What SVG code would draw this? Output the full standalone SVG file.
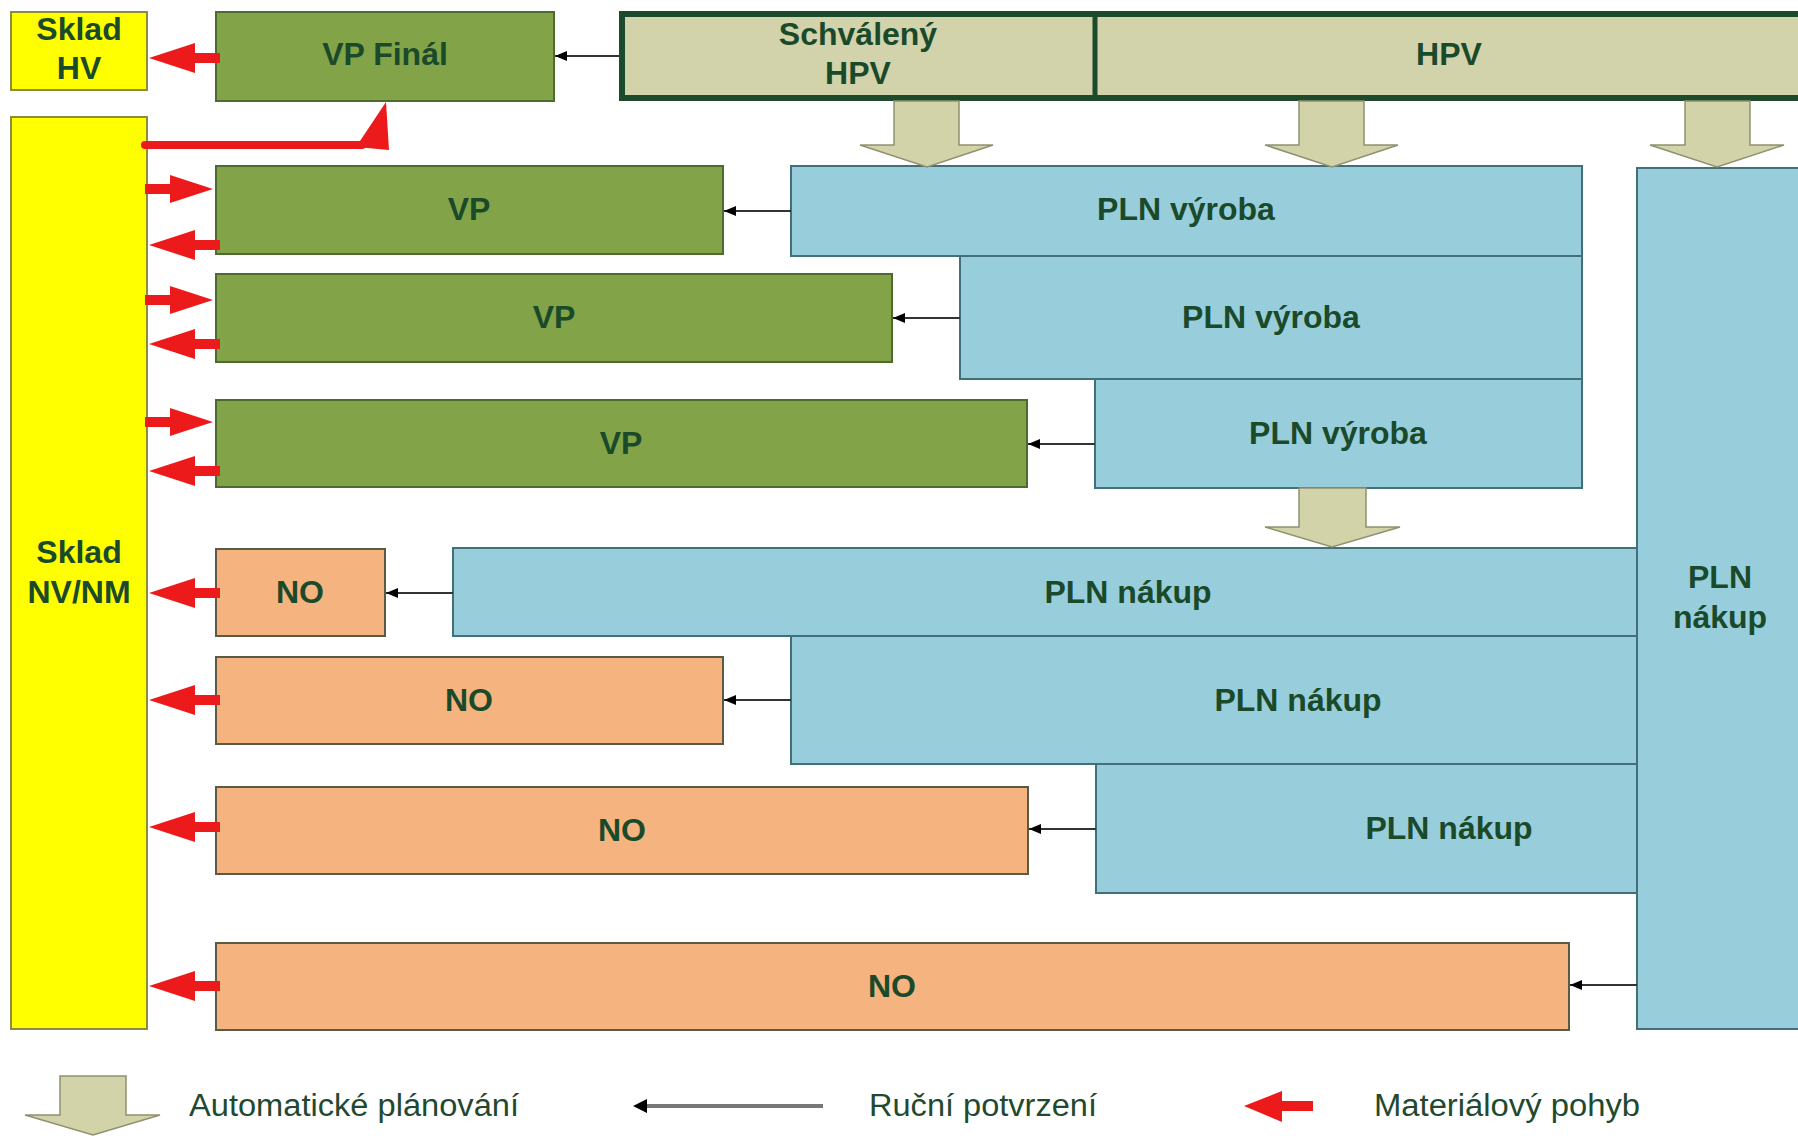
<svg xmlns="http://www.w3.org/2000/svg" width="1798" height="1136" viewBox="0 0 1798 1136">
<defs>
<style>
.lbl{font-family:"Liberation Sans",Arial,sans-serif;font-weight:bold;font-size:32px;fill:#1a4a2a;text-anchor:middle}
.leg{font-family:"Liberation Sans",Arial,sans-serif;font-size:31px;fill:#1f4a2f}
.yel{fill:#ffff00;stroke:#8c8c3c;stroke-width:2}
.grn{fill:#82a347;stroke:#4d6b2f;stroke-width:2}
.blu{fill:#98cedb;stroke:#41707b;stroke-width:2}
.org{fill:#f5b37f;stroke:#5b5b45;stroke-width:2}
.hpv{fill:#d2d3ab;stroke:#1d4a2a;stroke-width:6}
.blk{fill:#d3d3a9;stroke:#8f9170;stroke-width:1.5}
.red{fill:#ec1a1a}
.conn{stroke:#333;stroke-width:2;fill:none;marker-end:url(#ah)}
</style>
<marker id="ah" viewBox="0 0 12 10" refX="12" refY="5" markerWidth="12" markerHeight="10" markerUnits="userSpaceOnUse" orient="auto">
<path d="M0,0 L12,5 L0,10 Z" fill="#000"/>
</marker>
<polygon id="rl" points="0,0 46,-15 46,-5 71,-5 71,5 46,5 46,15" class="red"/>
<polygon id="rr" points="0,0 -43,-14 -43,-5 -68,-5 -68,5 -43,5 -43,14" class="red"/>
</defs>

<g id="sklad-hv"><rect class="yel" x="11" y="12" width="136" height="78"/><text class="lbl" x="79" y="40">Sklad</text><text class="lbl" x="79" y="79">HV</text></g>
<g id="sklad-nv"><rect class="yel" x="11" y="117" width="136" height="912"/><text class="lbl" x="79" y="563">Sklad</text><text class="lbl" x="79" y="603">NV/NM</text></g>

<g id="hpv-bar"><rect class="hpv" x="622" y="14" width="1190" height="84"/><line x1="1095" y1="14" x2="1095" y2="98" stroke="#1d4a2a" stroke-width="5"/></g>
<g id="schvaleny-hpv"><text class="lbl" x="858" y="45">Schválený</text><text class="lbl" x="858" y="84">HPV</text></g>
<g id="hpv"><text class="lbl" x="1449" y="65">HPV</text></g>

<g id="vp-final"><rect class="grn" x="216" y="12" width="338" height="89"/><text class="lbl" x="385" y="65">VP Finál</text></g>
<g id="vp1"><rect class="grn" x="216" y="166" width="507" height="88"/><text class="lbl" x="469" y="220">VP</text></g>
<g id="vp2"><rect class="grn" x="216" y="274" width="676" height="88"/><text class="lbl" x="554" y="328">VP</text></g>
<g id="vp3"><rect class="grn" x="216" y="400" width="811" height="87"/><text class="lbl" x="621" y="454">VP</text></g>

<g id="pln-vyroba1"><rect class="blu" x="791" y="166" width="791" height="90"/><text class="lbl" x="1186" y="220">PLN výroba</text></g>
<g id="pln-vyroba2"><rect class="blu" x="960" y="256" width="622" height="123"/><text class="lbl" x="1271" y="328">PLN výroba</text></g>
<g id="pln-vyroba3"><rect class="blu" x="1095" y="379" width="487" height="109"/><text class="lbl" x="1338" y="444">PLN výroba</text></g>

<g id="pln-nakup1"><rect class="blu" x="453" y="548" width="1360" height="88"/><text class="lbl" x="1128" y="603">PLN nákup</text></g>
<g id="pln-nakup2"><rect class="blu" x="791" y="636" width="1020" height="128"/><text class="lbl" x="1298" y="711">PLN nákup</text></g>
<g id="pln-nakup3"><rect class="blu" x="1096" y="764" width="715" height="129"/><text class="lbl" x="1449" y="839">PLN nákup</text></g>
<g id="pln-nakup-tall"><rect class="blu" x="1637" y="168" width="175" height="861"/><text class="lbl" x="1720" y="588">PLN</text><text class="lbl" x="1720" y="628">nákup</text></g>

<g id="no1"><rect class="org" x="216" y="549" width="169" height="87"/><text class="lbl" x="300" y="603">NO</text></g>
<g id="no2"><rect class="org" x="216" y="657" width="507" height="87"/><text class="lbl" x="469" y="711">NO</text></g>
<g id="no3"><rect class="org" x="216" y="787" width="812" height="87"/><text class="lbl" x="622" y="841">NO</text></g>
<g id="no4"><rect class="org" x="216" y="943" width="1353" height="87"/><text class="lbl" x="892" y="997">NO</text></g>

<g id="connectors">
<path class="blk" d="M894,101 H959 V145 H993 L927,167 L860,145 H894 Z"/>
<path class="blk" d="M1299,101 H1364 V145 H1398 L1332,167 L1265,145 H1299 Z"/>
<path class="blk" d="M1685,101 H1750 V145 H1784 L1717,167 L1650,145 H1685 Z"/>
<path class="blk" d="M1299,488 H1366 V527 H1400 L1332,547 L1265,527 H1299 Z"/>

<line class="conn" x1="619" y1="56" x2="555" y2="56"/>
<line class="conn" x1="791" y1="211" x2="724" y2="211"/>
<line class="conn" x1="960" y1="318" x2="893" y2="318"/>
<line class="conn" x1="1095" y1="444" x2="1028" y2="444"/>
<line class="conn" x1="453" y1="593" x2="386" y2="593"/>
<line class="conn" x1="791" y1="700" x2="724" y2="700"/>
<line class="conn" x1="1096" y1="829" x2="1029" y2="829"/>
<line class="conn" x1="1637" y1="985" x2="1570" y2="985"/>

<use href="#rl" x="149" y="58"/>
<path d="M145,145 H362" stroke="#ec1a1a" stroke-width="8" stroke-linecap="round" fill="none"/>
<polygon class="red" points="386,102 389,150 356,147"/>
<use href="#rr" x="213" y="189"/>
<use href="#rl" x="149" y="245"/>
<use href="#rr" x="213" y="300"/>
<use href="#rl" x="149" y="344"/>
<use href="#rr" x="213" y="422"/>
<use href="#rl" x="149" y="471"/>
<use href="#rl" x="149" y="593"/>
<use href="#rl" x="149" y="700"/>
<use href="#rl" x="149" y="827"/>
<use href="#rl" x="149" y="986"/>
</g>

<g id="legend">
<path class="blk" d="M60,1076 H126 V1115 H160 L93,1135 L25,1115 H60 Z"/>
<text class="leg" x="189" y="1116" textLength="330" lengthAdjust="spacingAndGlyphs">Automatické plánování</text>
<line x1="823" y1="1106" x2="646" y2="1106" stroke="#777" stroke-width="4"/>
<path d="M633,1106 L647,1099 L647,1113 Z" fill="#000"/>
<text class="leg" x="869" y="1116" textLength="228" lengthAdjust="spacingAndGlyphs">Ruční potvrzení</text>
<polygon class="red" points="1244,1106 1282,1091 1282,1101 1313,1101 1313,1111 1282,1111 1282,1122"/>
<text class="leg" x="1374" y="1116" textLength="266" lengthAdjust="spacingAndGlyphs">Materiálový pohyb</text>
</g>
</svg>
